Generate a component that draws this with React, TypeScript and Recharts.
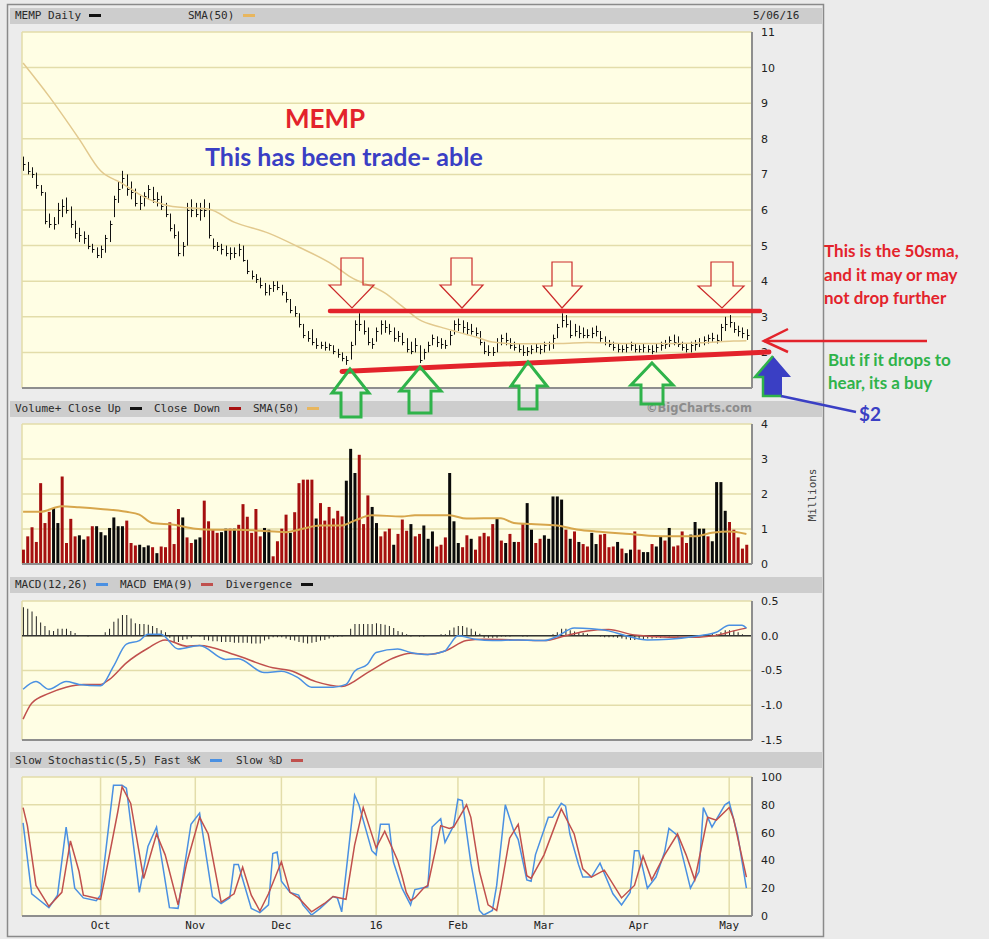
import React from 'react';
import { ComposedChart, Bar, Line, XAxis, YAxis, CartesianGrid, Cell, ReferenceLine } from 'recharts';

// trading-day index of the first session of each month (Sep 4 2015 = 0)
const monthTicks = [18, 40, 60, 82, 101, 121, 143, 164];
const monthLabels = ['Oct', 'Nov', 'Dec', '16', 'Feb', 'Mar', 'Apr', 'May'];

const priceTicks = [2, 3, 4, 5, 6, 7, 8, 9, 10, 11];
const volumeTicks = [0, 1, 2, 3, 4];
const macdTicks = [-1.5, -1, -0.5, 0, 0.5];
const stochTicks = [0, 20, 40, 60, 80, 100];

const high = [
  7.5, 7.35, 7.2, 7.05, 6.7, 6.5, 5.9, 5.8, 6.2, 6.3,
  6.35, 6.1, 5.7, 5.5, 5.4, 5.3, 5.05, 4.95, 5.0, 5.3,
  5.7, 6.4, 6.8, 7.1, 7.0, 6.8, 6.6, 6.4, 6.5, 6.7,
  6.65, 6.5, 6.4, 6.2, 5.9, 5.6, 5.4, 5.1, 6.2, 6.3,
  6.2, 6.2, 6.3, 6.2, 5.2, 5.1, 5.05, 5.0, 4.95, 4.95,
  5.05, 5.0, 4.6, 4.3, 4.2, 4.1, 3.95, 3.9, 4.0, 4.0,
  3.9, 3.7, 3.5, 3.3, 3.1, 2.8, 2.6, 2.65, 2.4, 2.3,
  2.3, 2.25, 2.2, 2.1, 2.0, 1.9, 2.3, 2.9, 3.1, 2.9,
  2.7, 2.4, 2.7, 2.9, 2.9, 2.8, 2.7, 2.6, 2.55, 2.4,
  2.3, 2.4, 2.2, 2.1, 2.3, 2.5, 2.45, 2.4, 2.35, 2.6,
  2.9, 2.95, 2.9, 2.85, 2.8, 2.7, 2.6, 2.3, 2.2, 2.15,
  2.4, 2.5, 2.55, 2.4, 2.3, 2.25, 2.2, 2.15, 2.2, 2.25,
  2.2, 2.3, 2.3, 2.5, 2.8, 3.1, 3.05, 2.9, 2.8, 2.75,
  2.7, 2.65, 2.7, 2.75, 2.6, 2.45, 2.35, 2.3, 2.25, 2.2,
  2.25, 2.3, 2.25, 2.2, 2.25, 2.2, 2.2, 2.25, 2.3, 2.35,
  2.45, 2.5, 2.45, 2.3, 2.25, 2.3, 2.35, 2.4, 2.45, 2.5,
  2.55, 2.5, 2.8, 3.0, 3.05, 2.85, 2.75, 2.7, 2.65,
];

const low = [
  7.1, 7.0, 6.9, 6.6, 6.4, 5.6, 5.5, 5.45, 5.6, 5.8,
  5.9, 5.5, 5.2, 5.1, 5.05, 4.9, 4.8, 4.65, 4.65, 4.8,
  5.1, 5.8, 6.2, 6.6, 6.4, 6.3, 6.1, 6.0, 6.1, 6.3,
  6.2, 6.1, 6.0, 5.8, 5.4, 5.2, 4.7, 4.7, 5.0, 5.8,
  5.8, 5.7, 5.8, 5.2, 4.9, 4.85, 4.75, 4.7, 4.6, 4.65,
  4.7, 4.55, 4.2, 4.05, 3.95, 3.8, 3.6, 3.6, 3.7, 3.75,
  3.6, 3.4, 3.1, 3.0, 2.7, 2.4, 2.3, 2.2, 2.1, 2.1,
  2.05, 2.05, 1.95, 1.85, 1.75, 1.65, 1.8, 2.2, 2.6, 2.5,
  2.2, 2.1, 2.3, 2.5, 2.55, 2.5, 2.3, 2.3, 2.2, 2.0,
  1.95, 2.0, 1.7, 1.8, 2.0, 2.2, 2.15, 2.1, 2.1, 2.2,
  2.5, 2.6, 2.55, 2.5, 2.5, 2.45, 2.2, 1.95, 1.9, 1.9,
  2.0, 2.2, 2.2, 2.1, 2.05, 2.0, 1.9, 1.9, 1.95, 2.0,
  1.95, 2.0, 2.05, 2.1, 2.4, 2.7, 2.7, 2.4, 2.45, 2.4,
  2.4, 2.4, 2.4, 2.45, 2.3, 2.2, 2.15, 2.05, 2.0, 2.0,
  2.0, 2.05, 2.0, 2.0, 2.0, 2.0, 1.95, 2.0, 2.05, 2.1,
  2.15, 2.2, 2.15, 2.05, 2.0, 2.0, 2.05, 2.15, 2.2, 2.25,
  2.3, 2.25, 2.3, 2.6, 2.7, 2.55, 2.45, 2.4, 2.35,
];

const close = [
  7.3, 7.1, 7.0, 6.7, 6.5, 5.7, 5.6, 5.6, 6.0, 6.1,
  6.0, 5.6, 5.35, 5.3, 5.2, 5.0, 4.9, 4.75, 4.9, 5.2,
  5.6, 6.3, 6.6, 6.9, 6.6, 6.5, 6.2, 6.2, 6.4, 6.6,
  6.3, 6.3, 6.1, 5.9, 5.5, 5.3, 4.8, 5.0, 6.0, 6.0,
  5.9, 6.0, 6.0, 5.3, 5.0, 5.0, 4.9, 4.8, 4.8, 4.8,
  4.9, 4.6, 4.3, 4.15, 4.05, 3.9, 3.7, 3.8, 3.9, 3.85,
  3.7, 3.5, 3.2, 3.1, 2.8, 2.5, 2.4, 2.3, 2.2, 2.2,
  2.15, 2.2, 2.05, 1.95, 1.85, 1.8, 2.2, 2.8, 2.8, 2.6,
  2.3, 2.25, 2.6, 2.8, 2.7, 2.6, 2.4, 2.45, 2.3, 2.1,
  2.05, 2.2, 1.8, 2.0, 2.2, 2.4, 2.3, 2.25, 2.2, 2.5,
  2.8, 2.8, 2.7, 2.65, 2.6, 2.55, 2.3, 2.05, 2.0, 2.0,
  2.3, 2.4, 2.35, 2.2, 2.15, 2.1, 2.0, 2.05, 2.1, 2.15,
  2.1, 2.2, 2.25, 2.4, 2.7, 2.9, 2.8, 2.5, 2.6, 2.55,
  2.5, 2.5, 2.55, 2.6, 2.4, 2.3, 2.25, 2.15, 2.1, 2.1,
  2.15, 2.2, 2.1, 2.1, 2.15, 2.1, 2.05, 2.15, 2.2, 2.25,
  2.35, 2.3, 2.25, 2.15, 2.1, 2.2, 2.25, 2.3, 2.35, 2.4,
  2.4, 2.35, 2.7, 2.8, 2.85, 2.65, 2.6, 2.55, 2.5,
];

// millions of shares
const volume = [
  0.41, 0.79, 1.05, 0.63, 2.31, 1.17, 1.49, 1.6, 1.17, 2.5,
  0.6, 1.29, 0.79, 0.82, 0.7, 0.79, 1.08, 1.08, 0.91, 0.82,
  1.03, 1.33, 1.08, 1.08, 1.24, 0.6, 0.53, 0.55, 0.48, 0.53,
  0.48, 0.31, 0.5, 0.48, 1.19, 0.57, 1.57, 1.33, 0.76, 0.6,
  0.7, 0.76, 1.81, 1.22, 0.98, 0.89, 0.91, 1.01, 1.01, 1.01,
  1.12, 1.71, 1.35, 0.89, 1.57, 0.79, 1.03, 0.98, 0.22, 0.65,
  1.01, 1.41, 0.89, 1.48, 2.31, 2.41, 2.41, 2.41, 1.3, 1.74,
  1.24, 1.63, 1.3, 1.52, 1.36, 2.38, 3.29, 2.6, 3.12, 1.14,
  1.96, 1.63, 1.17, 0.79, 0.93, 1.01, 0.55, 0.86, 1.27, 0.95,
  1.14, 0.79, 0.86, 1.1, 0.72, 0.93, 0.5, 0.55, 0.76, 2.6,
  1.22, 0.6, 0.48, 0.82, 0.72, 0.41, 0.79, 0.89, 0.79, 1.14,
  1.29, 0.67, 0.6, 0.86, 0.63, 0.63, 1.17, 1.74, 0.98, 0.6,
  0.72, 0.82, 0.72, 1.93, 1.93, 1.84, 0.98, 0.72, 0.93, 0.63,
  0.57, 0.5, 0.89, 0.57, 0.84, 0.86, 0.48, 0.5, 0.63, 0.44,
  0.31, 0.41, 0.93, 0.41, 0.34, 0.34, 0.57, 0.5, 0.79, 0.67,
  1.03, 0.5, 0.53, 0.93, 0.6, 0.84, 1.2, 1.01, 1.01, 0.79,
  0.65, 2.34, 2.34, 1.52, 1.2, 0.98, 0.76, 0.44, 0.55,
];

// 1 = close up (black bar), 0 = close down (red bar)
const closeUp = [
  0, 0, 0, 0, 0, 0, 0, 1, 1, 0,
  0, 0, 0, 1, 1, 0, 0, 1, 1, 1,
  1, 1, 1, 1, 0, 0, 0, 1, 1, 1,
  0, 1, 0, 0, 0, 0, 0, 1, 0, 0,
  1, 1, 0, 0, 0, 0, 1, 1, 0, 1,
  0, 0, 0, 0, 0, 0, 1, 1, 0, 0,
  0, 0, 1, 0, 0, 0, 0, 0, 1, 0,
  0, 0, 0, 0, 0, 1, 1, 1, 0, 0,
  0, 1, 1, 0, 0, 0, 1, 0, 0, 0,
  1, 0, 0, 1, 1, 1, 0, 0, 0, 1,
  1, 1, 0, 0, 1, 0, 0, 0, 0, 0,
  1, 0, 1, 0, 1, 0, 0, 1, 1, 0,
  0, 1, 1, 1, 1, 1, 0, 1, 0, 1,
  0, 0, 1, 1, 0, 0, 0, 0, 1, 0,
  1, 1, 0, 0, 1, 1, 0, 1, 1, 0,
  1, 0, 0, 0, 0, 1, 1, 1, 1, 0,
  1, 1, 1, 1, 0, 0, 0, 0, 0,
];

const divergence = [
  0.41, 0.39, 0.35, 0.28, 0.19, 0.14, 0.08, 0.07, 0.1, 0.1,
  0.1, 0.07, 0.04, 0.01, 0, -0.01, 0, 0, 0.01, 0.05,
  0.1, 0.2, 0.25, 0.3, 0.3, 0.25, 0.18, 0.17, 0.17, 0.16,
  0.14, 0.11, 0.08, 0.05, -0.03, -0.1, -0.09, -0.06, -0.05, -0.03,
  0, -0.01, -0.06, -0.07, -0.08, -0.08, -0.09, -0.09, -0.09, -0.1,
  -0.1, -0.1, -0.1, -0.11, -0.11, -0.11, -0.07, -0.05, -0.02, -0.02,
  -0.02, -0.04, -0.06, -0.07, -0.09, -0.1, -0.11, -0.1, -0.09, -0.07,
  -0.06, -0.04, -0.02, -0.015, -0.01, 0, 0.1, 0.17, 0.17, 0.17,
  0.17, 0.17, 0.18, 0.17, 0.16, 0.14, 0.11, 0.07, 0.05, 0.02,
  -0.01, 0, -0.01, -0.01, 0, 0, 0.01, 0.02, 0.02, 0.08,
  0.12, 0.14, 0.14, 0.12, 0.1, 0.06, 0.03, -0.03, -0.03, -0.03,
  -0.03, -0.01, -0.01, -0.01, 0, 0, -0.01, -0.01, 0, 0,
  0, 0, 0.01, 0.02, 0.05, 0.1, 0.1, 0.08, 0.06, 0.05,
  0.04, 0.03, 0.01, 0, -0.01, -0.02, -0.02, -0.02, -0.03, -0.04,
  -0.05, -0.06, -0.06, -0.05, -0.05, -0.04, -0.04, -0.03, -0.03, -0.01,
  -0.01, 0, -0.01, 0, 0, 0, 0, 0, 0.01, 0.02,
  0.03, 0.02, 0.05, 0.08, 0.08, 0.07, 0.05, 0.02, 0.01,
];

const priceSma = [
  [0, 10.13], [6, 9.2], [13, 8.0], [18, 7.1], [23, 6.75], [28, 6.37], [33, 6.14], [38, 6.06],
  [43, 6.03], [49, 5.66], [57, 5.35], [64, 4.96], [72, 4.46], [76, 4.12], [84, 3.67], [88, 3.3],
  [92, 2.92], [97, 2.71], [101, 2.57], [106, 2.4], [109, 2.29], [115, 2.24], [125, 2.25], [131, 2.28],
  [137, 2.26], [143, 2.25], [149, 2.25], [155, 2.26], [161, 2.29], [165, 2.32], [168, 2.33],
];

const volumeSma = [
  [0, 1.49], [4, 1.49], [9, 1.65], [13, 1.62], [18, 1.57], [24, 1.49], [27, 1.41], [30, 1.17],
  [35, 1.12], [40, 1.01], [44, 0.98], [50, 0.98], [55, 0.95], [61, 0.91], [64, 0.98], [69, 1.1],
  [74, 1.1], [77, 1.24], [81, 1.39], [88, 1.36], [91, 1.39], [99, 1.39], [103, 1.3], [111, 1.31],
  [114, 1.17], [118, 1.14], [124, 1.1], [129, 0.98], [133, 0.93], [141, 0.86], [149, 0.79],
  [156, 0.79], [160, 0.89], [164, 0.93], [168, 0.86],
];

const macdLine = [
  [0, -0.77], [3, -0.66], [6, -0.77], [10, -0.66], [13, -0.7], [18, -0.72], [21, -0.44], [24, -0.12],
  [27, -0.07], [29, 0.02], [32, 0.02], [36, -0.19], [41, -0.14], [47, -0.34], [50, -0.33], [56, -0.53],
  [60, -0.51], [64, -0.61], [67, -0.74], [72, -0.74], [75, -0.7], [77, -0.51], [80, -0.41], [82, -0.24],
  [87, -0.19], [90, -0.24], [94, -0.27], [98, -0.22], [99, -0.14], [101, 0], [105, -0.05], [109, -0.07],
  [115, -0.06], [121, -0.07], [124, -0.01], [128, 0.11], [132, 0.1], [136, 0.07], [140, 0], [145, -0.06],
  [150, -0.05], [157, 0], [161, 0.05], [164, 0.15], [167, 0.15], [168, 0.11],
];

const macdSignal = [
  [0, -1.2], [2, -0.97], [6, -0.83], [10, -0.74], [14, -0.7], [18, -0.7], [20, -0.63], [24, -0.39],
  [29, -0.18], [33, -0.06], [38, -0.15], [41, -0.14], [49, -0.27], [58, -0.46], [62, -0.5], [68, -0.66],
  [74, -0.73], [80, -0.53], [86, -0.32], [90, -0.25], [94, -0.27], [98, -0.22], [103, -0.07], [107, -0.05],
  [115, -0.06], [121, -0.07], [126, 0], [131, 0.07], [136, 0.09], [142, 0.01], [150, -0.02], [157, -0.02],
  [162, 0.02], [165, 0.07], [168, 0.11],
];

const fastK = [
  [0, 67], [2, 16], [4, 11], [6, 6], [8, 15], [10, 64], [12, 20], [14, 13], [17, 11], [18, 15],
  [21, 94], [23, 94], [24, 92], [27, 17], [29, 50], [31, 64], [34, 6], [36, 5.5], [39, 66], [41, 74],
  [44, 14], [46, 9], [48, 13], [49, 37], [50, 37], [53, 5.5], [55, 2.4], [57, 8], [58, 45], [59, 46],
  [60, 25], [62, 17], [64, 15], [65, 8], [67, 0.7], [69, 5.5], [72, 14], [73, 13], [74, 3], [77, 87],
  [78, 80], [81, 47], [82, 44], [83, 66], [85, 66], [86, 39], [88, 20], [90, 8], [91, 19], [94, 21],
  [95, 64], [97, 70], [98, 53], [100, 65], [101, 84], [102, 83], [104, 38], [106, 4], [107, 0.7], [109, 4],
  [110, 22], [112, 80], [114, 61], [115, 55], [117, 26], [118, 25], [119, 44], [122, 71], [123, 71], [125, 81],
  [126, 79], [127, 59], [129, 37], [130, 28], [132, 28], [134, 38], [137, 16], [139, 8], [141, 17], [142, 47],
  [143, 47], [145, 20], [147, 28], [149, 46], [150, 63], [152, 58], [155, 20], [157, 32], [158, 78], [160, 64],
  [163, 80], [164, 82], [166, 58], [167, 39], [168, 20],
];

const slowD = [
  [0, 78], [1, 65], [3, 22], [6, 7], [9, 17], [11, 54], [13, 32], [14, 15], [18, 12], [19, 27],
  [22, 75], [23, 93], [25, 81], [28, 27], [31, 59], [33, 44], [36, 8], [38, 38], [41, 71], [43, 59],
  [46, 10], [49, 16], [51, 35], [53, 15], [55, 3.6], [57, 16], [60, 39], [62, 17], [64, 13], [67, 3],
  [70, 9], [72, 14], [75, 12], [77, 51], [79, 78], [82, 49], [84, 61], [87, 40], [88, 29], [89, 17],
  [90, 11], [91, 13], [93, 20], [94, 22], [97, 65], [99, 63], [100, 64], [103, 80], [104, 71], [106, 32],
  [108, 8], [110, 4], [111, 20], [113, 56], [115, 66], [117, 29], [118, 27], [121, 44], [125, 77], [128, 59],
  [130, 34], [132, 28], [135, 33], [139, 13], [142, 22], [144, 43], [146, 26], [149, 44], [152, 59], [154, 44],
  [156, 26], [159, 71], [161, 69], [164, 78], [165, 70], [168, 28],
];

const days = high.map((h, i) => ({
  i,
  h,
  l: low[i],
  c: close[i],
  vol: volume[i],
  up: closeUp[i],
  div: divergence[i],
}));

const pts = (a: number[][]) => a.map(([i, v]) => ({ i, v }));

const W = 989;
const PLOT_LEFT = 22;
const PLOT_RIGHT = 752;
const AXIS_W = 45;
const xDomain: [number, number] = [-0.25, 169.3];

const GRID = '#e3ddaa';
const PLOT_BG = '#fffee4';
const AXIS = '#8e8e8e';
const MONO = '"DejaVu Sans Mono", monospace';
const SANS = '"DejaVu Sans", Verdana, sans-serif';
const TICK = { fill: '#222', fontSize: 11, fontFamily: SANS };

const margin = { top: 5, right: W - PLOT_RIGHT - AXIS_W, bottom: 0, left: PLOT_LEFT };

function OhlcBar(props: any) {
  const { x, y, width, height, payload } = props;
  if (x == null || y == null) return null;
  const top = Math.min(y, y + height);
  const h = Math.abs(height);
  const cx = Math.round(x + width / 2) + 0.5;
  const span = payload.h - payload.l || 1;
  const cy = Math.round(top + ((payload.h - payload.c) / span) * h) + 0.5;
  return (
    <g>
      <line x1={cx} x2={cx} y1={top} y2={top + Math.max(h, 1)} stroke="#111" strokeWidth={1} />
      <line x1={cx} x2={cx + 2} y1={cy} y2={cy} stroke="#111" strokeWidth={1} />
    </g>
  );
}

function Panel({ top, plotH, xAxisH = 8, children, yDomain, yTicks, fmt, showMonths = false }: any) {
  return (
    <div style={{ position: 'absolute', left: 0, top: top - 5 }}>
      <ComposedChart width={W} height={5 + plotH + xAxisH} data={days} margin={margin}>
        <CartesianGrid stroke={GRID} strokeWidth={1.5} fill={PLOT_BG} fillOpacity={1} />
        <XAxis
          dataKey="i"
          type="number"
          domain={xDomain}
          allowDataOverflow
          ticks={monthTicks}
          interval={0}
          height={xAxisH}
          tickLine={false}
          tick={showMonths ? { fill: '#222', fontSize: 11, fontFamily: MONO } : false}
          tickSize={4}
          tickMargin={1}
          tickFormatter={(v: number) => monthLabels[monthTicks.indexOf(v)]}
          axisLine={{ stroke: AXIS, strokeWidth: 2 }}
        />
        <YAxis
          orientation="right"
          width={AXIS_W}
          domain={yDomain}
          allowDataOverflow
          ticks={yTicks}
          interval={0}
          tickLine={false}
          tickSize={6}
          tickMargin={3}
          tick={TICK}
          tickFormatter={fmt}
          axisLine={{ stroke: AXIS, strokeWidth: 2 }}
        />
        {children}
      </ComposedChart>
    </div>
  );
}

function Swatch({ x, y, color }: { x: number; y: number; color: string }) {
  return <rect x={x} y={y - 5} width={12} height={3} fill={color} />;
}

function Chrome() {
  const head = (y: number) => <rect x={10} y={y} width={812} height={16} fill="#cdcdcd" />;
  const txt = { fontFamily: MONO, fontSize: 11, fill: '#2a2a2a' } as const;
  return (
    <svg width={W} height={939} style={{ position: 'absolute', left: 0, top: 0 }}>
      <rect x={0} y={0} width={W} height={939} fill="#ebebeb" />
      <rect x={7.5} y={4.5} width={816} height={932} fill="#ececec" stroke="#8a8a8a" strokeWidth={1.5} />
      {head(8)}
      {head(401)}
      {head(577)}
      {head(752)}
      <text x={15} y={19} {...txt}>MEMP Daily</text>
      <Swatch x={89} y={19} color="#111" />
      <text x={188} y={19} {...txt}>SMA(50)</text>
      <Swatch x={243} y={19} color="#e8b65e" />
      <text x={753} y={19} {...txt}>5/06/16</text>

      <text x={15} y={412} {...txt}>Volume+ Close Up</text>
      <Swatch x={130} y={412} color="#111" />
      <text x={154} y={412} {...txt}>Close Down</text>
      <Swatch x={229} y={412} color="#a81010" />
      <text x={253} y={412} {...txt}>SMA(50)</text>
      <Swatch x={307} y={412} color="#e8b65e" />
      <text x={752} y={412} textAnchor="end" fontFamily={SANS} fontWeight="bold" fontSize={11.5} fill="#8c8c8c">
        ©BigCharts.com
      </text>

      <text x={15} y={588} {...txt}>MACD(12,26)</text>
      <Swatch x={96} y={588} color="#4a90e2" />
      <text x={120} y={588} {...txt}>MACD EMA(9)</text>
      <Swatch x={201} y={588} color="#c0504d" />
      <text x={226} y={588} {...txt}>Divergence</text>
      <Swatch x={301} y={588} color="#111" />

      <text x={15} y={764} {...txt}>Slow Stochastic(5,5) Fast %K</text>
      <Swatch x={210} y={764} color="#4a90e2" />
      <text x={236} y={764} {...txt}>Slow %D</text>
      <Swatch x={291} y={764} color="#c0504d" />

      <text
        x={0}
        y={0}
        transform="translate(816 495) rotate(-90)"
        textAnchor="middle"
        {...txt}
        fill="#444"
      >
        Millions
      </text>
    </svg>
  );
}

function downArrow(sl: number, sr: number, top: number, hy: number, hl: number, hr: number, tx: number, ty: number) {
  return `${sl},${top} ${sr},${top} ${sr},${hy} ${hr},${hy} ${tx},${ty} ${hl},${hy} ${sl},${hy}`;
}

function upArrow(tx: number, ty: number, hy: number, hl: number, hr: number, sl: number, sr: number, bottom: number) {
  return `${tx},${ty} ${hr},${hy} ${sr},${hy} ${sr},${bottom} ${sl},${bottom} ${sl},${hy} ${hl},${hy}`;
}

function Annotations() {
  const RED = '#e3232b';
  const GREEN = '#2fb34a';
  const BLUE = '#3a3fc4';
  const note = { fontFamily: 'Lato, "Open Sans", sans-serif', fontSize: 17, fontWeight: 'bold' } as const;
  return (
    <svg width={W} height={939} style={{ position: 'absolute', left: 0, top: 0, pointerEvents: 'none' }}>
      <text x={325} y={128} textAnchor="middle" fontFamily="Lato, sans-serif" fontWeight="bold" fontSize={26} fill={RED}>
        MEMP
      </text>
      <text x={205} y={166} fontFamily="Lato, sans-serif" fontWeight="bold" fontSize={25} fill={BLUE}>
        This has been trade- able
      </text>

      {[
        downArrow(341, 363, 258, 285, 329, 374, 352, 308),
        downArrow(451, 472, 258, 285, 440, 483, 462, 308),
        downArrow(552, 572, 262, 286, 543, 582, 562, 308),
        downArrow(711, 733, 262, 286, 698, 744, 722, 308),
      ].map((p, k) => (
        <polygon key={k} points={p} fill="none" stroke="#cc2a2a" strokeWidth={1.2} />
      ))}

      <line x1={330} y1={311} x2={760} y2={311} stroke={RED} strokeWidth={4.5} strokeLinecap="round" />
      <line x1={342} y1={371.5} x2={769} y2={352} stroke={RED} strokeWidth={5} strokeLinecap="round" />

      {[
        upArrow(350, 369, 393, 332, 369, 341, 361, 417),
        upArrow(420, 367, 391, 400, 441, 409, 431, 413),
        upArrow(528, 362, 386, 511, 547, 519, 537, 409),
        upArrow(652, 363, 385, 631, 673, 641, 663, 404),
      ].map((p, k) => (
        <polygon key={k} points={p} fill="none" stroke={GREEN} strokeWidth={3} />
      ))}

      <polygon points={upArrow(773, 356, 377, 755, 791, 763, 782, 396)} fill={BLUE} />
      <polyline points="773,356 755,377 763,377 763,396 782,396" fill="none" stroke={GREEN} strokeWidth={2.5} />
      <line x1={781} y1={396} x2={856} y2={412} stroke={BLUE} strokeWidth={2.5} />
      <text x={859} y={421} fontFamily="Lato, sans-serif" fontWeight="bold" fontSize={19} fill={BLUE}>
        $2
      </text>

      <line x1={764} y1={341} x2={927} y2={341} stroke={RED} strokeWidth={2.5} />
      <polyline points="788,329 764,341 788,352" fill="none" stroke={RED} strokeWidth={2.5} />

      <text x={824} y={257} {...note} fill={RED}>This is the 50sma,</text>
      <text x={824} y={281} {...note} fill={RED}>and it may or may</text>
      <text x={824} y={304} {...note} fill={RED}>not drop further</text>

      <text x={828} y={366} {...note} fill={GREEN}>But if it drops to</text>
      <text x={828} y={389} {...note} fill={GREEN}>hear, its a buy</text>
    </svg>
  );
}

export default function App() {
  return (
    <div style={{ position: 'absolute', left: 0, top: 0, width: W, height: 939, overflow: 'hidden' }}>
      <Chrome />

      <Panel top={32} plotH={356} xAxisH={2} yDomain={[1, 11]} yTicks={priceTicks}>
        <Line
          data={pts(priceSma)}
          dataKey="v"
          type="monotone"
          stroke="#e2c98e"
          strokeWidth={1.5}
          dot={false}
          isAnimationActive={false}
        />
        <Bar dataKey={(d: any) => [d.l, d.h]} barSize={3} shape={OhlcBar} isAnimationActive={false} />
      </Panel>

      <Panel top={424} plotH={140} yDomain={[0, 4]} yTicks={volumeTicks}>
        <Bar dataKey="vol" barSize={3} isAnimationActive={false}>
          {days.map((d) => (
            <Cell key={d.i} fill={d.up ? '#0a0a0a' : '#a50f0f'} />
          ))}
        </Bar>
        <Line
          data={pts(volumeSma)}
          dataKey="v"
          type="monotone"
          stroke="#d7a64c"
          strokeWidth={2}
          dot={false}
          isAnimationActive={false}
        />
      </Panel>

      <Panel
        top={601}
        plotH={139}
        yDomain={[-1.5, 0.5]}
        yTicks={macdTicks}
        fmt={(v: number) => v.toFixed(1)}
      >
        <ReferenceLine y={0} stroke="#333" strokeWidth={1.5} />
        <Bar dataKey="div" barSize={1} fill="#222" isAnimationActive={false} />
        <Line data={pts(macdSignal)} dataKey="v" type="monotone" stroke="#c0504d" strokeWidth={1.5} dot={false} isAnimationActive={false} />
        <Line data={pts(macdLine)} dataKey="v" type="monotone" stroke="#4a90e2" strokeWidth={1.5} dot={false} isAnimationActive={false} />
      </Panel>

      <Panel top={777} plotH={139} xAxisH={20} yDomain={[0, 100]} yTicks={stochTicks} showMonths>
        <Line data={pts(fastK)} dataKey="v" stroke="#4a90e2" strokeWidth={1.5} dot={false} isAnimationActive={false} />
        <Line data={pts(slowD)} dataKey="v" stroke="#c0504d" strokeWidth={1.5} dot={false} isAnimationActive={false} />
      </Panel>

      <Annotations />
    </div>
  );
}
